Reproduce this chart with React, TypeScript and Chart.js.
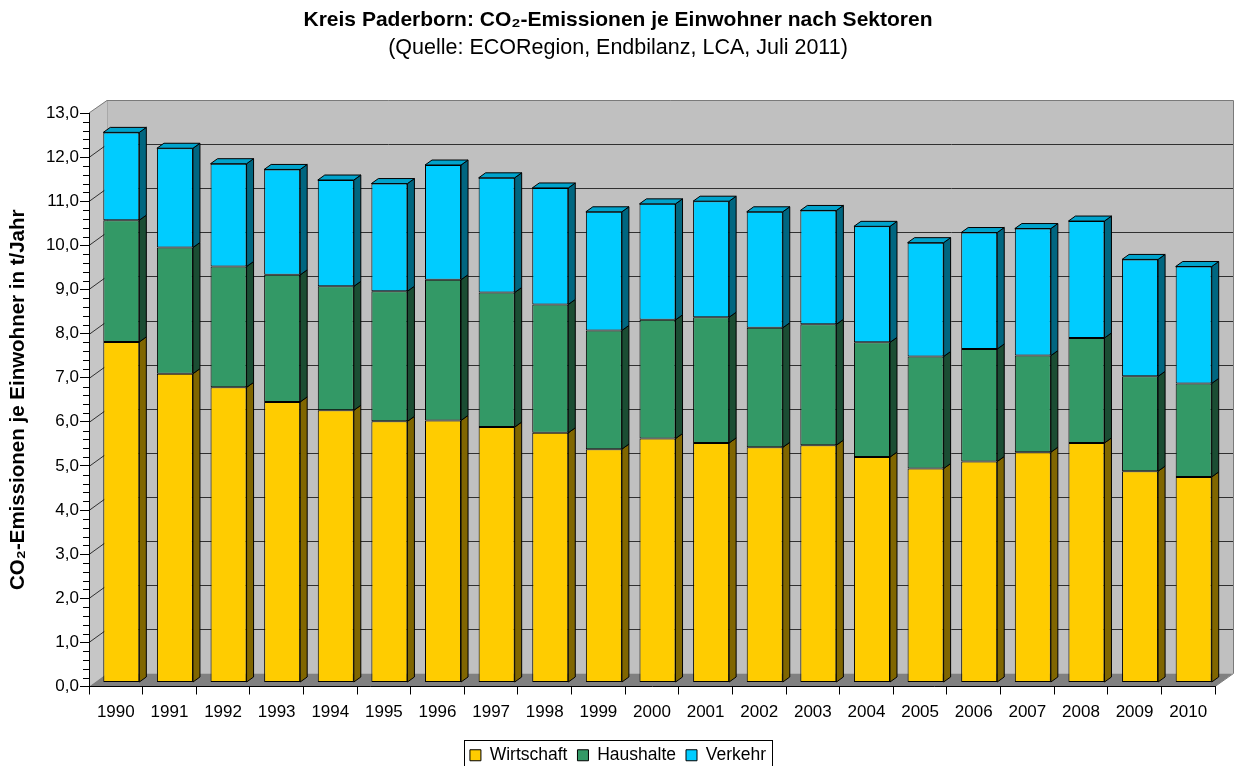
import React, { useEffect, useRef } from "react";
import { Chart, registerables } from "chart.js";

Chart.register(...registerables);

const years = [
  "1990", "1991", "1992", "1993", "1994", "1995", "1996", "1997", "1998", "1999",
  "2000", "2001", "2002", "2003", "2004", "2005", "2006", "2007", "2008", "2009", "2010",
];
const wirtschaft = [7.72, 7.0, 6.69, 6.36, 6.17, 5.92, 5.94, 5.79, 5.66, 5.29, 5.53, 5.43, 5.33, 5.38, 5.11, 4.85, 5.01, 5.22, 5.43, 4.79, 4.66];
const haushalte = [2.76, 2.86, 2.74, 2.88, 2.81, 2.95, 3.19, 3.05, 2.91, 2.69, 2.69, 2.85, 2.71, 2.74, 2.6, 2.54, 2.55, 2.19, 2.38, 2.15, 2.12];
const verkehr = [1.99, 2.25, 2.33, 2.39, 2.41, 2.44, 2.6, 2.6, 2.64, 2.69, 2.63, 2.63, 2.63, 2.58, 2.63, 2.58, 2.64, 2.88, 2.65, 2.65, 2.65];
const seriesNames = ["Wirtschaft", "Haushalte", "Verkehr"];
const yTickValues = [0, 1, 2, 3, 4, 5, 6, 7, 8, 9, 10, 11, 12, 13];

const titleText = "Kreis Paderborn: CO\u2082-Emissionen je Einwohner nach Sektoren";
const subtitleText = "(Quelle: ECORegion, Endbilanz, LCA, Juli 2011)";
const yTitleText = "CO\u2082-Emissionen je Einwohner in t/Jahr";

const frontColors = ["#FFCC00", "#339966", "#00CCFF"];
const sideColors = ["#806600", "#1B4D33", "#006680"];
const topColor = "#00A3CC";

// 3D geometry (pixels)
const DEPTH_X = 18;
const DEPTH_Y = 13;
const FRONT_X = 5.5;
const FRONT_Y = 4;
const BAR_DX = 7;
const BAR_DY = 5;

function poly(ctx: CanvasRenderingContext2D, pts: number[][], fill?: string, stroke?: string) {
  ctx.beginPath();
  ctx.moveTo(pts[0][0], pts[0][1]);
  for (let i = 1; i < pts.length; i++) ctx.lineTo(pts[i][0], pts[i][1]);
  ctx.closePath();
  if (fill) {
    ctx.fillStyle = fill;
    ctx.fill();
  }
  if (stroke) {
    ctx.strokeStyle = stroke;
    ctx.lineWidth = 1;
    ctx.stroke();
  }
}

const wallsPlugin = {
  id: "walls3d",
  beforeDraw(chart: any) {
    const { ctx, chartArea: a, scales } = chart;
    const ys = scales.y;
    const L = a.left, R = a.right, T = a.top, B = a.bottom;
    ctx.save();
    ctx.fillStyle = "#c0c0c0";
    ctx.fillRect(L + DEPTH_X, T - DEPTH_Y, R - L, B - T);
    poly(ctx, [[L, B], [L, T], [L + DEPTH_X, T - DEPTH_Y], [L + DEPTH_X, B - DEPTH_Y]], "#c6c6c6");
    poly(ctx, [[L, B], [R, B], [R + DEPTH_X, B - DEPTH_Y], [L + DEPTH_X, B - DEPTH_Y]], "#808080");
    ctx.strokeStyle = "#a8a8a8";
    ctx.lineWidth = 1;
    ctx.beginPath();
    ctx.moveTo(L + DEPTH_X + 0.5, T - DEPTH_Y);
    ctx.lineTo(L + DEPTH_X + 0.5, B - DEPTH_Y);
    ctx.stroke();
    ctx.strokeStyle = "#303030";
    ctx.lineWidth = 1;
    yTickValues.forEach((v) => {
      if (v <= 0 || v >= 13) return;
      const py = Math.round(ys.getPixelForValue(v)) + 0.5;
      ctx.beginPath();
      ctx.moveTo(L + DEPTH_X, py - DEPTH_Y);
      ctx.lineTo(R + DEPTH_X, py - DEPTH_Y);
      ctx.moveTo(L, py);
      ctx.lineTo(L + DEPTH_X, py - DEPTH_Y);
      ctx.stroke();
    });
    ctx.strokeStyle = "#7a7a7a";
    ctx.beginPath();
    ctx.moveTo(L, T);
    ctx.lineTo(L + DEPTH_X, T - DEPTH_Y + 0.5);
    ctx.lineTo(R + DEPTH_X + 0.5, T - DEPTH_Y + 0.5);
    ctx.lineTo(R + DEPTH_X + 0.5, B - DEPTH_Y);
    ctx.lineTo(R, B);
    ctx.stroke();
    ctx.restore();
  },
};

const barsPlugin = {
  id: "bars3d",
  beforeDatasetsDraw(chart: any) {
    chart.ctx.save();
    chart.ctx.translate(FRONT_X, -FRONT_Y);
  },
  afterDatasetsDraw(chart: any) {
    const ctx = chart.ctx;
    const n = chart.data.datasets.length;
    ctx.lineJoin = "round";
    for (let d = 0; d < n; d++) {
      const meta = chart.getDatasetMeta(d);
      meta.data.forEach((el: any) => {
        const { x, y, base, width } = el.getProps(["x", "y", "base", "width"], true);
        const xl = x - width / 2;
        const xr = x + width / 2;
        const top = Math.min(y, base);
        const bot = Math.max(y, base);
        poly(
          ctx,
          [[xr, top], [xr + BAR_DX, top - BAR_DY], [xr + BAR_DX, bot - BAR_DY], [xr, bot]],
          sideColors[d],
          "#000"
        );
        if (d === n - 1) {
          poly(
            ctx,
            [[xl, top], [xl + BAR_DX, top - BAR_DY], [xr + BAR_DX, top - BAR_DY], [xr, top]],
            topColor,
            "#000"
          );
        }
      });
    }
    ctx.restore();
  },
};

const minorTicksPlugin = {
  id: "minorTicks",
  afterDraw(chart: any) {
    const { ctx, chartArea: a, scales } = chart;
    const ys = scales.y;
    ctx.save();
    ctx.strokeStyle = "#000";
    ctx.lineWidth = 1;
    ctx.beginPath();
    for (let i = 0; i <= 65; i++) {
      if (i % 5 === 0) continue;
      const py = Math.round(ys.getPixelForValue(i / 5)) + 0.5;
      ctx.moveTo(a.left - 6, py);
      ctx.lineTo(a.left, py);
    }
    ctx.stroke();
    ctx.restore();
  },
};

const legendFramePlugin = {
  id: "legendFrame",
  afterDraw(chart: any) {
    const lg = chart.legend;
    if (!lg || !lg.legendHitBoxes || !lg.legendHitBoxes.length) return;
    const hb = lg.legendHitBoxes;
    const first = hb[0];
    const last = hb[hb.length - 1];
    const left = Math.round(first.left - 6) + 0.5;
    const right = Math.round(last.left + last.width + 6) + 0.5;
    const top = Math.round(first.top - 7) + 0.5;
    const ctx = chart.ctx;
    ctx.save();
    ctx.strokeStyle = "#000";
    ctx.lineWidth = 1;
    ctx.strokeRect(left, top, right - left, 60);
    ctx.restore();
  },
};

export default function App() {
  const ref = useRef<HTMLCanvasElement | null>(null);

  useEffect(() => {
    document.body.style.margin = "0";
    Chart.defaults.font.family = "'Liberation Sans', Arial, sans-serif";
    Chart.defaults.color = "#000";
    const canvas = ref.current;
    if (!canvas) return;
    const seriesData = [wirtschaft, haushalte, verkehr];
    const chart = new Chart(canvas, {
      type: "bar",
      data: {
        labels: years,
        datasets: seriesNames.map((name, i) => ({
          label: name,
          data: seriesData[i],
          backgroundColor: frontColors[i],
          borderColor: "#000",
          borderWidth: 1,
          borderSkipped: false,
          clip: false as any,
        })),
      },
      options: {
        responsive: false,
        animation: false,
        devicePixelRatio: 1,
        layout: { padding: { left: 0, right: 0, top: 0, bottom: 16 } },
        datasets: { bar: { categoryPercentage: 1, barPercentage: 0.672 } },
        plugins: {
          title: {
            display: true,
            text: titleText,
            color: "#000",
            font: { size: 21, weight: "bold" },
            padding: { top: 7.5, bottom: 1 },
          },
          subtitle: {
            display: true,
            text: subtitleText,
            color: "#000",
            font: { size: 21.5, weight: "normal" },
            padding: { top: 1.4, bottom: 52.1 },
          },
          legend: {
            position: "bottom",
            labels: {
              boxWidth: 11,
              boxHeight: 11,
              padding: 10,
              color: "#000",
              font: { size: 17.5 },
            },
          },
          tooltip: { enabled: false },
        },
        scales: {
          x: {
            stacked: true,
            grid: { display: true, drawOnChartArea: false, offset: true, tickLength: 8, color: "#000" },
            border: { display: true, color: "#000" },
            ticks: { color: "#000", font: { size: 17 }, padding: 8, maxRotation: 0, autoSkip: false },
            afterFit: (s: any) => {
              s.height = 50;
            },
          },
          y: {
            stacked: true,
            min: 0,
            max: 13,
            afterBuildTicks: (s: any) => {
              s.ticks = yTickValues.map((v) => ({ value: v }));
            },
            ticks: {
              color: "#000",
              font: { size: 17 },
              padding: 1,
              callback: (v: any) => Number(v).toFixed(1).replace(".", ","),
            },
            grid: { drawOnChartArea: false, tickLength: 9, color: "#000" },
            border: { display: true, color: "#000" },
            title: {
              display: true,
              text: yTitleText,
              color: "#000",
              font: { size: 20.5, weight: "bold" },
              padding: { top: 6, bottom: 0 },
            },
            afterFit: (s: any) => {
              s.width = 89;
            },
          },
          yRight: {
            type: "linear",
            position: "right",
            display: true,
            grid: { display: false },
            border: { display: false },
            ticks: { display: false },
            afterFit: (s: any) => {
              s.width = 21;
            },
          },
        },
      } as any,
      plugins: [wallsPlugin, barsPlugin, minorTicksPlugin, legendFramePlugin],
    });
    return () => chart.destroy();
  }, []);

  return (
    <div style={{ width: 1236, height: 766, overflow: "hidden", background: "#fff" }}>
      <canvas ref={ref} width={1236} height={790} style={{ display: "block", width: 1236, height: 790 }} />
    </div>
  );
}
